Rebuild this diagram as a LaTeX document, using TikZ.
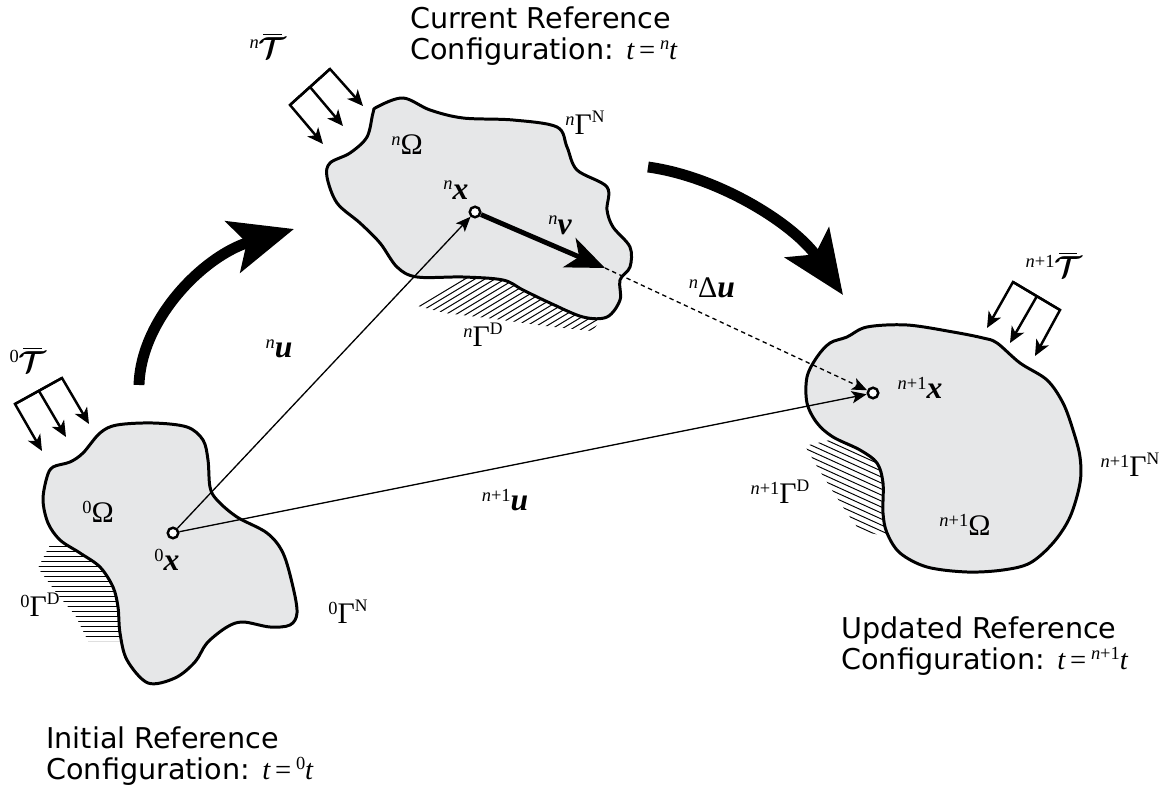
\documentclass[tikz,border=0pt]{standalone}
\usepackage{fontspec}
\setmainfont{Liberation Serif}
\newfontfamily\capfont{DejaVu Sans}
\usepackage{bm}
\usetikzlibrary{arrows.meta}
\definecolor{bodyfill}{RGB}{230,231,232}
\newcommand\pre[1]{\raisebox{5.5pt}{\fontsize{10.5}{11}\selectfont #1}}
\newcommand\rsup[1]{\raisebox{7pt}{\fontsize{10}{11}\selectfont #1}}
\newcommand\bv[1]{{\fontsize{18}{20}\selectfont\bfseries\itshape #1}}
\newcommand\trac{\makebox[0pt][l]{\hspace{2.5pt}\raisebox{13.2pt}{\rule{10.5pt}{0.9pt}}}{\fontsize{18}{20}\selectfont$\bm{\mathcal{T}}$}}
\newcommand\nn{\textit{n}}
\begin{document}
\begin{tikzpicture}[x=0.02cm,y=-0.02cm,
  outline/.style={draw=black, line width=1.7pt, fill=bodyfill},
  hatchline/.style={line width=0.55pt},
  thinarrow/.style={line width=0.75pt, -{Stealth[length=8.5pt,width=7pt,inset=2pt]}},
  tracarrow/.style={line width=1.4pt, line join=miter, -{Stealth[length=9pt,width=8pt,inset=2.5pt]}},
  bigarrow/.style={line width=6.2pt, -{Stealth[length=36pt,width=30pt,inset=8pt]}},
  varrow/.style={line width=2.8pt, -{Stealth[length=22pt,width=18pt,inset=6pt]}},
  dotarrow/.style={line width=0.75pt, dash pattern=on 2.5pt off 2pt, -{Stealth[length=8.5pt,width=7pt,inset=2pt]}},
  pt/.style={circle, draw, line width=1.4pt, fill=white, minimum size=6pt, inner sep=0pt},
  lbl/.style={inner sep=0pt, font=\fontsize{17}{19}\selectfont},
  captext/.style={inner sep=0pt, anchor=north west, align=left, font=\capfont\fontsize{16.3}{17.8}\selectfont}]
\useasboundingbox (0,0) rectangle (1170,790);

% ---------- hatching (Dirichlet boundaries) ----------
\begin{scope}
  \clip (52,541) -- (38,568) -- (58,595) -- (75,615) -- (88,641) -- (140,641) -- (140,541) -- cycle;
  \foreach \y in {546,551,...,641} \draw[hatchline] (30,\y) -- (140,\y);
\end{scope}
\begin{scope}
  \clip (416,275) -- (418,306) -- (445,313) -- (495,319) -- (545,326) -- (592,331) -- (603,318) -- (560,296) -- (500,278) -- cycle;
  \foreach \i in {0,...,30} \draw[hatchline] (330+\i*10,360) -- ++(150,-90);
\end{scope}
\begin{scope}
  \clip (805,446) -- (830,440) -- (870,455) -- (890,480) -- (890,537) -- (860,531) -- (845,510) -- (832,490) -- (818,468) -- cycle;
  \foreach \i in {0,...,30} \draw[hatchline] (760,380+\i*6) -- ++(150,68);
\end{scope}

% ---------- bodies ----------
\draw[outline] plot[smooth cycle, tension=0.55] coordinates {(100,433) (117,425) (153,423) (187,427) (203,440) (208,460) (210,487) (217,500) (237,517) (267,533) (283,553) (293,587) (297,613) (290,625) (270,627) (243,622) (227,627) (207,643) (195,662) (175,678) (148,683) (127,660) (120,633) (118,607) (113,587) (100,567) (80,553) (60,540) (48,523) (43,500) (47,477) (53,467) (70,462) (83,453)};
\draw[outline] plot[smooth cycle, tension=0.55] coordinates {(377,107) (403,98) (430,110) (463,118) (513,120) (557,127) (567,147) (577,170) (607,187) (607,210) (613,227) (630,247) (630,267) (620,280) (620,300) (607,317) (583,317) (550,303) (523,290) (503,280) (463,277) (417,277) (397,267) (380,243) (360,223) (337,203) (327,177) (330,163) (350,153) (367,137) (373,113)};
\draw[outline] plot[smooth cycle, tension=0.55] coordinates {(867,327) (907,325) (953,332) (983,338) (997,343) (1020,363) (1047,380) (1063,403) (1073,430) (1080,457) (1080,483) (1070,517) (1053,543) (1030,563) (1003,570) (967,572) (927,567) (900,553) (887,533) (883,513) (883,483) (877,463) (860,450) (833,437) (817,423) (807,403) (807,377) (817,357) (830,343) (847,337)};

% ---------- material points ----------
\node[pt] (x0) at (173,533) {};
\node[pt] (xn) at (475,212) {};
\node[pt] (xn1) at (873,393) {};
\coordinate (vtip) at (605,268);

% ---------- displacement / velocity arrows ----------
\draw[thinarrow] (x0) -- (xn);
\draw[thinarrow] (x0) -- (xn1);
\draw[varrow] (xn) -- (vtip);
\draw[dotarrow] (vtip) -- (xn1);

% ---------- big curved arrows ----------
\coordinate (a1s) at (139,385);
\coordinate (a1e) at (294,229);
\coordinate (a2s) at (648,167);
\coordinate (a2e) at (843,295);
\draw[bigarrow] (a1s) .. controls (141,318) and (205,255) .. (a1e);
\draw[bigarrow] (a2s) .. controls (720,177) and (795,225) .. (a2e);

% ---------- tractions ----------
\coordinate (t0a) at (15,404); \coordinate (t0b) at (39,391); \coordinate (t0c) at (62,378);
\coordinate (t0ae) at (42,451); \coordinate (t0be) at (66,437); \coordinate (t0ce) at (89,424);
\draw[tracarrow] (t0c) -- (t0a) -- (t0ae);
\draw[tracarrow] (t0a) -- (t0c) -- (t0ce);
\draw[tracarrow] (t0b) -- (t0be);

\coordinate (tna) at (290,105); \coordinate (tnb) at (310,87); \coordinate (tnc) at (330,69);
\coordinate (tnae) at (323,144); \coordinate (tnbe) at (343,126); \coordinate (tnce) at (363,106);
\draw[tracarrow] (tnc) -- (tna) -- (tnae);
\draw[tracarrow] (tna) -- (tnc) -- (tnce);
\draw[tracarrow] (tnb) -- (tnbe);

\coordinate (tma) at (1013,282); \coordinate (tmb) at (1037,296); \coordinate (tmc) at (1060,310);
\coordinate (tmae) at (987,328); \coordinate (tmbe) at (1010,343); \coordinate (tmce) at (1035,356);
\draw[tracarrow] (tmc) -- (tma) -- (tmae);
\draw[tracarrow] (tma) -- (tmc) -- (tmce);
\draw[tracarrow] (tmb) -- (tmbe);

% ---------- labels ----------
\node[lbl] (T0) at (28,360) {\pre{0}\trac};
\node[lbl] (Tn) at (268,46) {\pre{\nn}\trac};
\node[lbl] (Tn1) at (1054,265) {\pre{\nn+1}\trac};

\node[lbl] (Om0) at (98,512) {\pre{0}Ω};
\node[lbl] (x0l) at (167,560) {\pre{0}\bv{x}};
\node[lbl] (G0D) at (40,605) {\pre{0}Γ\rsup{D}};
\node[lbl] (G0N) at (348,612) {\pre{0}Γ\rsup{N}};

\node[lbl] (Omn) at (407,145) {\pre{\nn}Ω};
\node[lbl] (xnl) at (456,190) {\pre{\nn}\bv{x}};
\node[lbl] (vl) at (560,225) {\pre{\nn}\bv{v}};
\node[lbl] (GnN) at (585,123) {\pre{\nn}Γ\rsup{N}};
\node[lbl] (GnD) at (483,335) {\pre{\nn}Γ\rsup{D}};
\node[lbl] (unl) at (279,349) {\pre{\nn}\bv{u}};
\node[lbl] (Dul) at (712,288) {\pre{\nn}Δ\bv{u}};

\node[lbl] (un1l) at (505,500) {\pre{\nn+1}\bv{u}};
\node[lbl] (xn1l) at (920,388) {\pre{\nn+1}\bv{x}};
\node[lbl] (Gn1D) at (780,492) {\pre{\nn+1}Γ\rsup{D}};
\node[lbl] (Gn1N) at (1130,465) {\pre{\nn+1}Γ\rsup{N}};
\node[lbl] (Omn1) at (965,525) {\pre{\nn+1}Ω};

% ---------- captions ----------
\node[captext] (capn) at (410,6) {Current Reference\\Configuration: {\rmfamily\itshape t}\,{\rmfamily =}\,{\rmfamily\pre{\nn}\itshape t}};
\node[captext] (cap0) at (46,726) {Initial Reference\\Configuration: {\rmfamily\itshape t}\,{\rmfamily =}\,{\rmfamily\pre{0}\itshape t}};
\node[captext] (capn1) at (841,616) {Updated Reference\\Configuration: {\rmfamily\itshape t}\,{\rmfamily =}\,{\rmfamily\pre{\nn+1}\itshape t}};
\end{tikzpicture}
\end{document}
